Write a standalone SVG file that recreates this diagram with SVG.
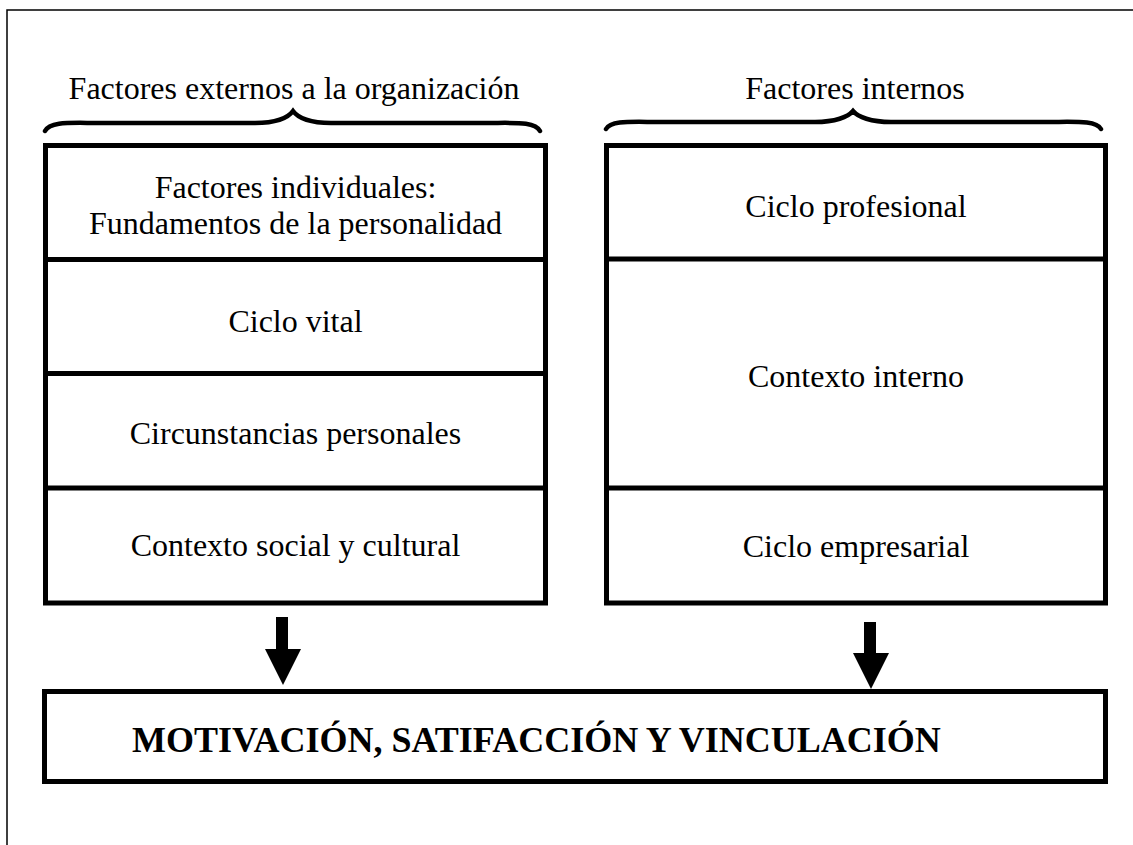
<svg xmlns="http://www.w3.org/2000/svg" width="1133" height="845" viewBox="0 0 1133 845">
<style>
.box{fill:#fff;stroke:#000;stroke-width:5}
.div{stroke:#000;stroke-width:5}
.brace{fill:none;stroke:#000;stroke-width:4.5;stroke-linecap:round}
.t{font-family:"Liberation Serif","Times New Roman",serif;font-size:32px;fill:#000;text-anchor:middle}
.b{font-weight:bold;font-size:36px}
.arr{fill:#000}
</style>
<rect x="0" y="0" width="1133" height="845" fill="#fff"/>
<path d="M7,845 L7,10 L1133,10" fill="none" stroke="#000" stroke-width="1.5"/>
<g id="header-left">
<text class="t" x="294" y="99">Factores externos a la organización</text>
<path class="brace" d="M45,131 C50,121 70,123 100,123 L255,123 C275,123 288,118 293,111 C298,118 311,123 331,123 L485,123 C515,123 535,121 540,131"/>
</g>
<g id="header-right">
<text class="t" x="855" y="99">Factores internos</text>
<path class="brace" d="M606,129 C611,120 631,122 661,122 L815,122 C835,122 848,117 853,111 C858,117 871,122 891,122 L1045,122 C1075,122 1096,120 1101,129"/>
</g>
<g id="left-column">
<rect class="box" x="45.5" y="145.5" width="500" height="457.5"/>
<line class="div" x1="45.5" y1="259.5" x2="545.5" y2="259.5"/>
<line class="div" x1="45.5" y1="373.5" x2="545.5" y2="373.5"/>
<line class="div" x1="45.5" y1="488" x2="545.5" y2="488"/>
</g>
<g id="n-factores-individuales"><text class="t" x="295.5" y="198">Factores individuales:</text><text class="t" x="295.5" y="234">Fundamentos de la personalidad</text></g>
<g id="n-ciclo-vital"><text class="t" x="295.5" y="332">Ciclo vital</text></g>
<g id="n-circunstancias"><text class="t" x="295.5" y="444">Circunstancias personales</text></g>
<g id="n-contexto-social"><text class="t" x="295.5" y="556">Contexto social y cultural</text></g>
<g id="right-column">
<rect class="box" x="606.5" y="145.5" width="499" height="457.5"/>
<line class="div" x1="606.5" y1="259" x2="1105.5" y2="259"/>
<line class="div" x1="606.5" y1="488" x2="1105.5" y2="488"/>
</g>
<g id="n-ciclo-profesional"><text class="t" x="856" y="217">Ciclo profesional</text></g>
<g id="n-contexto-interno"><text class="t" x="856" y="387">Contexto interno</text></g>
<g id="n-ciclo-empresarial"><text class="t" x="856" y="557">Ciclo empresarial</text></g>
<g id="n-motivacion">
<rect class="box" x="44.5" y="691.5" width="1061" height="90"/>
<text class="t b" x="536.5" y="752">MOTIVACIÓN, SATIFACCIÓN Y VINCULACIÓN</text>
</g>
<g id="connectors">
<polygon class="arr" points="276,617 288,617 288,649 301,649 283,685 265,649 276,649"/>
<polygon class="arr" points="864,622 876,622 876,653 889,653 871,689 853,653 864,653"/>
</g>
</svg>
